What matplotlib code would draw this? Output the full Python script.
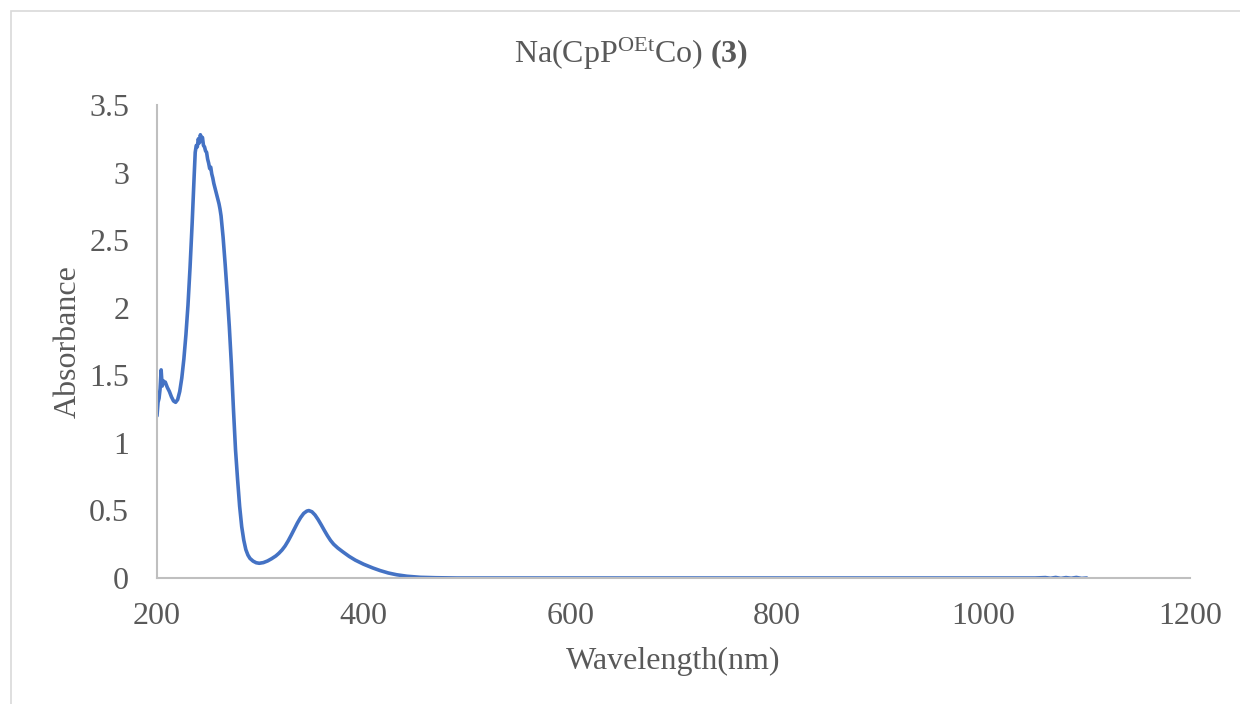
import matplotlib
matplotlib.use("Agg")
import matplotlib.pyplot as plt
from matplotlib.patches import Rectangle

plt.rcParams["font.family"] = ["Liberation Serif", "DejaVu Serif"]
plt.rcParams["mathtext.fontset"] = "custom"
plt.rcParams["mathtext.rm"] = "Liberation Serif"
plt.rcParams["mathtext.it"] = "Liberation Serif:italic"
plt.rcParams["mathtext.bf"] = "Liberation Serif:bold"

# UV-Vis spectrum (wavelength in nm, absorbance)
wavelength = [
    200, 201, 202, 203, 204, 205, 206, 207, 208, 210, 212, 214, 216, 218,
    220, 222, 224, 226, 228, 230, 232, 234, 236, 237, 238, 239, 240, 241,
    242, 243, 244, 245, 246, 247, 248, 249, 250, 251, 252, 253, 254, 255,
    256, 257, 258, 259, 260, 261, 262, 263, 264, 265, 266, 268, 270, 272,
    274, 276, 278, 280, 282, 284, 286, 288, 290, 293, 296, 299, 303, 307,
    311, 315, 318, 321, 324, 327, 330, 333, 336, 339, 342, 345, 347, 350,
    353, 356, 359, 362, 365, 368, 371, 375, 380, 386, 392, 400, 409, 416,
    424, 432, 442, 455, 470, 490, 520, 600, 700, 800, 900, 1000, 1050,
    1060, 1065, 1070, 1075, 1080, 1085, 1090, 1095, 1100,
]
absorbance = [
    1.20, 1.30, 1.33, 1.40, 1.54, 1.42, 1.46, 1.44, 1.45, 1.41, 1.38, 1.34,
    1.31, 1.30, 1.32, 1.38, 1.48, 1.62, 1.80, 2.02, 2.30, 2.62, 2.98, 3.15,
    3.20, 3.19, 3.25, 3.22, 3.28, 3.24, 3.26, 3.20, 3.19, 3.16, 3.15, 3.10,
    3.07, 3.03, 3.04, 2.99, 2.96, 2.92, 2.89, 2.86, 2.83, 2.80, 2.77, 2.73,
    2.68, 2.60, 2.52, 2.42, 2.32, 2.10, 1.86, 1.58, 1.25, 0.95, 0.73, 0.53,
    0.38, 0.28, 0.21, 0.17, 0.145, 0.125, 0.113, 0.109, 0.114, 0.126, 0.143,
    0.163, 0.183, 0.207, 0.237, 0.275, 0.318, 0.363, 0.408, 0.447, 0.478,
    0.495, 0.499, 0.490, 0.466, 0.432, 0.393, 0.352, 0.313, 0.278, 0.250,
    0.222, 0.193, 0.160, 0.132, 0.102, 0.074, 0.055, 0.037, 0.024, 0.013,
    0.005, 0.002, 0.0, 0.0, 0.0, 0.0, 0.0, 0.0, 0.0, 0.0, 0.003, -0.002,
    0.004, -0.003, 0.003, -0.002, 0.004, -0.003, 0.0,
]

x_ticks = [200, 400, 600, 800, 1000, 1200]
y_ticks = [0, 0.5, 1, 1.5, 2, 2.5, 3, 3.5]
y_tick_labels = ["0", "0.5", "1", "1.5", "2", "2.5", "3", "3.5"]

W, H = 1240, 704
fig = plt.figure(figsize=(W / 100, H / 100), dpi=100)
fig.patch.set_facecolor("white")

# chart-area frame
fig.patches.append(Rectangle((11 / W, -0.05), 1.2, (H - 11) / H + 0.05,
                             transform=fig.transFigure, fill=False,
                             edgecolor="#D9D9D9", linewidth=1.2))

ax = fig.add_axes([157 / W, (H - 578) / H, (1190 - 157) / W, (578 - 105) / H])
ax.plot(wavelength, absorbance, color="#4472C4", linewidth=2.6,
        solid_joinstyle="round", solid_capstyle="round")

ax.set_xlim(200, 1200)
ax.set_ylim(0, 3.5)
ax.set_xticks(x_ticks)
ax.set_yticks(y_ticks)
ax.set_yticklabels(y_tick_labels)
ax.tick_params(axis="both", length=0, labelsize=23, colors="#595959")
ax.tick_params(axis="y", pad=20)
ax.tick_params(axis="x", pad=17)

for side in ("top", "right"):
    ax.spines[side].set_visible(False)
for side in ("left", "bottom"):
    ax.spines[side].set_color("#BFBFBF")
    ax.spines[side].set_linewidth(1.5)

ax.set_xlabel("Wavelength(nm)", fontsize=23, color="#595959", labelpad=12)
ax.set_ylabel("Absorbance", fontsize=23, color="#595959", labelpad=5)

fig.text(631 / W, 1 - 54 / H,
         r"Na(CpP$^{\mathrm{OEt}}$Co) $\mathbf{(3)}$",
         ha="center", va="center", fontsize=23, color="#595959")

fig.savefig("out.png", dpi=100, facecolor="white")
